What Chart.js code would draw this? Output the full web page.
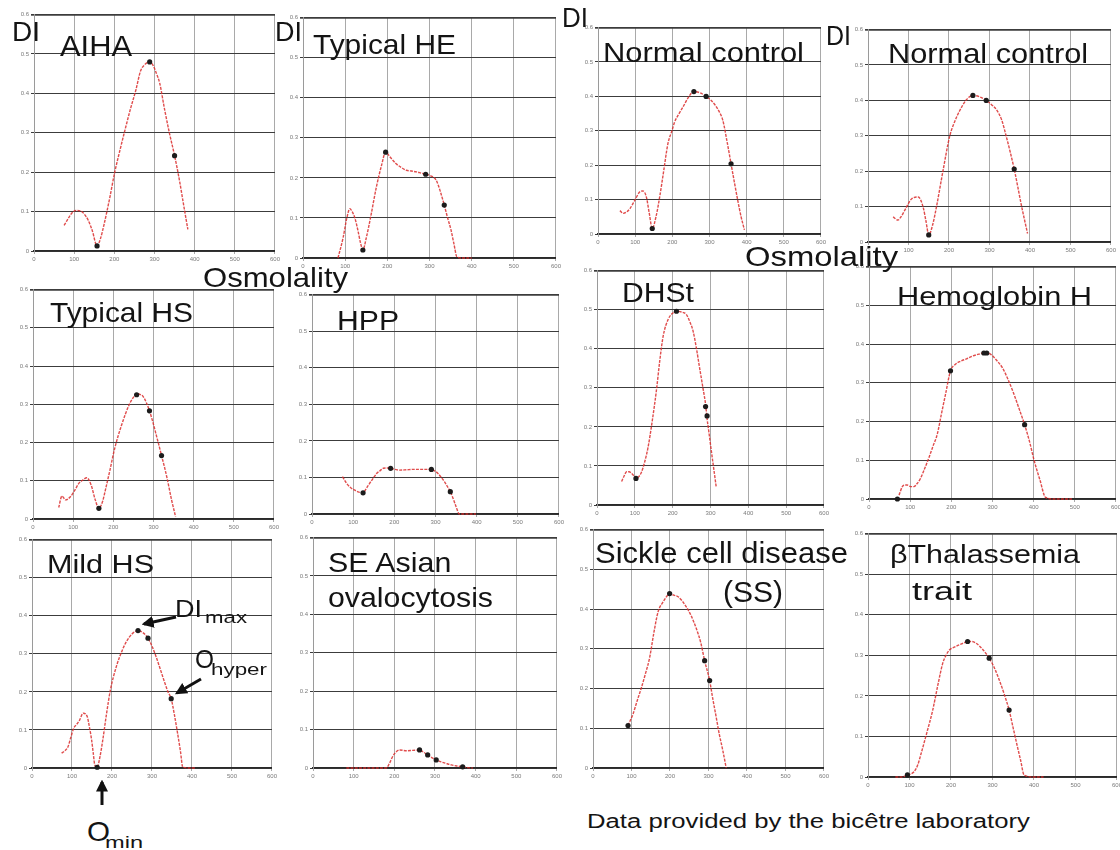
<!DOCTYPE html>
<html>
<head>
<meta charset="utf-8">
<script src="https://cdn.jsdelivr.net/npm/chart.js@4.4.1/dist/chart.umd.min.js"></script>
<style>
  html, body { margin: 0; padding: 0; background: #fff; overflow: hidden; }
  #wrap { position: relative; width: 1120px; height: 850px; background: #fff; }
  #wrap canvas { position: absolute; }
  .lbl { position: absolute; line-height: 1; white-space: nowrap; transform-origin: 0 0;
         font-family: "Liberation Sans", Arial, sans-serif; color: #141414; z-index: 2; }
  #arrows { position: absolute; left: 0; top: 0; z-index: 3; }
</style>
</head>
<body>
<div id="wrap">
  <svg id="arrows" width="1120" height="850">
    <defs>
      <marker id="ah" markerWidth="4" markerHeight="4" refX="3.2" refY="2" orient="auto" markerUnits="strokeWidth">
        <path d="M0,0 L4,2 L0,4 z" fill="#111"/>
      </marker>
    </defs>
    <line x1="176" y1="617" x2="144" y2="624" stroke="#111" stroke-width="3" marker-end="url(#ah)"/>
    <line x1="201" y1="679" x2="177" y2="693" stroke="#111" stroke-width="3" marker-end="url(#ah)"/>
    <line x1="102" y1="805" x2="102" y2="782" stroke="#111" stroke-width="3" marker-end="url(#ah)"/>
  </svg>
</div>
<script>
// axes (shared by all panels)
const xTicks = [0, 100, 200, 300, 400, 500, 600];
const yTicks = [0, 0.1, 0.2, 0.3, 0.4, 0.5, 0.6];

// AIHA
const aihaX = [75, 85, 95, 105, 115, 125, 135, 145, 157, 165, 175, 189, 201, 215, 226, 240, 254, 265, 278, 288, 297, 305, 313, 325, 337, 350, 362, 372, 383];
const aihaY = [0.065, 0.082, 0.097, 0.103, 0.102, 0.094, 0.078, 0.052, 0.013, 0.03, 0.07, 0.137, 0.2, 0.26, 0.305, 0.36, 0.41, 0.456, 0.475, 0.48, 0.47, 0.45, 0.426, 0.36, 0.3, 0.242, 0.18, 0.12, 0.055];
const aihaDotX = [157, 288, 350];
const aihaDotY = [0.013, 0.48, 0.242];

// Typical HE
const heX = [83, 95, 104, 111, 117, 123, 130, 137, 142, 150, 160, 174, 186, 196, 208, 221, 233, 245, 257, 269, 280, 291, 303, 316, 326, 335, 343, 351, 358, 365, 380, 400];
const heY = [0, 0.05, 0.1, 0.123, 0.115, 0.1, 0.07, 0.035, 0.02, 0.05, 0.1, 0.177, 0.23, 0.264, 0.25, 0.235, 0.226, 0.219, 0.217, 0.215, 0.212, 0.209, 0.205, 0.194, 0.165, 0.132, 0.1, 0.07, 0.035, 0.003, 0, 0];
const heDotX = [142, 196, 291, 335];
const heDotY = [0.02, 0.264, 0.209, 0.132];

// Normal control (1)
const nc1X = [59, 68, 77, 86, 99, 112, 121, 130, 138, 146, 156, 166, 177, 188, 199, 206, 217, 228, 246, 258, 275, 291, 303, 313, 325, 336, 347, 358, 367, 376, 385, 394];
const nc1Y = [0.068, 0.06, 0.064, 0.074, 0.098, 0.122, 0.125, 0.108, 0.06, 0.016, 0.05, 0.108, 0.185, 0.262, 0.3, 0.325, 0.348, 0.368, 0.402, 0.414, 0.41, 0.4, 0.39, 0.378, 0.358, 0.33, 0.27, 0.204, 0.15, 0.098, 0.05, 0.012];
const nc1DotX = [146, 258, 291, 358];
const nc1DotY = [0.016, 0.414, 0.4, 0.204];

// Normal control (2)
const nc2X = [62, 74, 82, 91, 108, 124, 136, 143, 150, 160, 169, 185, 202, 214, 226, 243, 259, 276, 292, 305, 317, 330, 341, 351, 361, 370, 378, 386, 394];
const nc2Y = [0.071, 0.062, 0.072, 0.09, 0.122, 0.127, 0.099, 0.06, 0.02, 0.05, 0.099, 0.2, 0.3, 0.34, 0.37, 0.402, 0.414, 0.41, 0.4, 0.388, 0.374, 0.345, 0.3, 0.255, 0.206, 0.155, 0.108, 0.065, 0.024];
const nc2DotX = [150, 259, 292, 361];
const nc2DotY = [0.02, 0.414, 0.4, 0.206];

// Typical HS
const hsX = [64, 72, 81, 93, 104, 114, 124, 134, 145, 155, 164, 173, 182, 192, 203, 220, 240, 250, 258, 266, 273, 282, 290, 298, 306, 313, 320, 328, 335, 345, 355];
const hsY = [0.03, 0.06, 0.05, 0.058, 0.075, 0.093, 0.102, 0.108, 0.088, 0.05, 0.028, 0.045, 0.084, 0.13, 0.183, 0.244, 0.3, 0.318, 0.328, 0.326, 0.322, 0.305, 0.283, 0.255, 0.223, 0.195, 0.166, 0.133, 0.101, 0.05, 0.006];
const hsDotX = [164, 258, 290, 320];
const hsDotY = [0.028, 0.325, 0.283, 0.166];

// HPP
const hppX = [74, 84, 94, 104, 114, 124, 132, 140, 149, 157, 165, 173, 182, 191, 202, 213, 230, 245, 260, 275, 290, 298, 306, 314, 322, 329, 336, 343, 350, 358, 380, 398];
const hppY = [0.102, 0.084, 0.072, 0.065, 0.06, 0.058, 0.07, 0.084, 0.098, 0.111, 0.118, 0.125, 0.126, 0.125, 0.122, 0.12, 0.121, 0.122, 0.122, 0.122, 0.122, 0.118, 0.111, 0.1, 0.088, 0.075, 0.061, 0.042, 0.02, 0, 0, 0];
const hppDotX = [124, 191, 290, 336];
const hppDotY = [0.058, 0.125, 0.122, 0.061];

// DHSt
const dhsX = [65, 72, 78, 85, 91, 97, 103, 110, 118, 126, 135, 146, 157, 166, 175, 188, 199, 210, 223, 236, 245, 254, 263, 271, 280, 288, 290, 296, 302, 309, 315];
const dhsY = [0.06, 0.075, 0.085, 0.085, 0.081, 0.075, 0.068, 0.072, 0.085, 0.11, 0.148, 0.215, 0.293, 0.37, 0.433, 0.475, 0.49, 0.496, 0.494, 0.488, 0.47, 0.445, 0.4, 0.352, 0.3, 0.25, 0.229, 0.185, 0.14, 0.09, 0.047];
const dhsDotX = [103, 210, 287, 291];
const dhsDotY = [0.068, 0.496, 0.252, 0.228];

// Hemoglobin H
const hbhX = [73, 81, 87, 93, 101, 109, 117, 125, 135, 146, 156, 166, 176, 186, 198, 210, 223, 237, 251, 267, 283, 295, 310, 324, 338, 352, 365, 378, 390, 401, 415, 429, 450, 470, 493];
const hbhY = [0.01, 0.032, 0.036, 0.036, 0.032, 0.032, 0.04, 0.053, 0.078, 0.108, 0.138, 0.168, 0.22, 0.271, 0.331, 0.348, 0.356, 0.362, 0.369, 0.374, 0.378, 0.374, 0.358, 0.339, 0.308, 0.271, 0.232, 0.192, 0.148, 0.1, 0.05, 0.004, 0, 0, 0];
const hbhDotX = [69, 198, 279, 286, 378];
const hbhDotY = [0, 0.331, 0.377, 0.377, 0.192];

// Mild HS
const mhsX = [74, 82, 90, 97, 104, 112, 119, 128, 138, 144, 149, 153, 157, 163, 170, 177, 186, 196, 211, 224, 236, 250, 265, 278, 290, 300, 310, 320, 330, 340, 348, 356, 364, 371, 377, 395, 410];
const mhsY = [0.039, 0.045, 0.056, 0.08, 0.104, 0.115, 0.126, 0.144, 0.135, 0.105, 0.074, 0.04, 0.008, 0.002, 0.03, 0.074, 0.14, 0.205, 0.267, 0.305, 0.332, 0.352, 0.361, 0.355, 0.341, 0.32, 0.293, 0.262, 0.23, 0.2, 0.182, 0.14, 0.091, 0.045, 0.002, 0, 0];
const mhsDotX = [163, 265, 290, 348];
const mhsDotY = [0.002, 0.361, 0.341, 0.182];

// SE Asian ovalocytosis
const seaX = [82, 120, 160, 180, 188, 195, 201, 213, 230, 245, 262, 272, 282, 292, 303, 315, 327, 340, 355, 368, 380, 393];
const seaY = [0, 0, 0, 0, 0.012, 0.028, 0.038, 0.047, 0.045, 0.046, 0.047, 0.041, 0.034, 0.027, 0.021, 0.016, 0.012, 0.008, 0.005, 0.003, 0.001, 0];
const seaDotX = [262, 282, 303, 368];
const seaDotY = [0.047, 0.034, 0.021, 0.003];

// Sickle cell disease (SS)
const sckX = [91, 97, 104, 115, 126, 137, 147, 158, 169, 182, 190, 199, 210, 221, 232, 242, 255, 268, 280, 290, 303, 311, 320, 328, 337, 346];
const sckY = [0.107, 0.12, 0.136, 0.17, 0.203, 0.24, 0.277, 0.34, 0.393, 0.418, 0.43, 0.439, 0.435, 0.431, 0.42, 0.406, 0.383, 0.352, 0.315, 0.27, 0.22, 0.175, 0.128, 0.085, 0.045, 0];
const sckDotX = [91, 199, 290, 303];
const sckDotY = [0.107, 0.439, 0.27, 0.22];

// beta thalassemia trait
const btX = [66, 80, 95, 104, 111, 120, 128, 142, 156, 168, 180, 188, 196, 208, 220, 230, 240, 250, 260, 276, 292, 304, 316, 328, 340, 350, 360, 368, 376, 400, 423];
const btY = [0, 0, 0.005, 0.008, 0.013, 0.03, 0.058, 0.11, 0.165, 0.225, 0.28, 0.3, 0.313, 0.32, 0.326, 0.33, 0.334, 0.334, 0.33, 0.315, 0.293, 0.27, 0.24, 0.205, 0.165, 0.12, 0.075, 0.04, 0.005, 0, 0];
const btDotX = [95, 240, 292, 340];
const btDotY = [0.005, 0.334, 0.293, 0.165];

const wrap = document.getElementById('wrap');

// plot boxes: l = x 0, r = x 600, t = y 0.6, b = y 0
function drawPanel(box, cx, cy, dx, dy) {
    const padL = 16, padT = 4, padR = 6, padB = 14;
    const w = box.r - box.l + padL + padR;
    const h = box.b - box.t + padT + padB;
    const cv = document.createElement('canvas');
    cv.width = w;
    cv.height = h;
    cv.style.left = (box.l - padL) + 'px';
    cv.style.top = (box.t - padT) + 'px';
    cv.style.width = w + 'px';
    cv.style.height = h + 'px';
    wrap.appendChild(cv);

    return new Chart(cv, {
        type: 'scatter',
        data: {
            datasets: [{
                data: dx.map((x, i) => ({ x: x, y: dy[i] })),
                pointRadius: 2.6,
                backgroundColor: '#1c1c1c',
                borderWidth: 0,
                order: 0,
                clip: false
            }, {
                data: cx.map((x, i) => ({ x: x, y: cy[i] })),
                showLine: true,
                borderColor: 'rgba(218, 45, 45, 0.85)',
                borderWidth: 1.4,
                borderDash: [3, 1.2],
                pointRadius: 0,
                cubicInterpolationMode: 'monotone',
                order: 1,
                clip: false
            }]
        },
        options: {
            responsive: false,
            animation: false,
            events: [],
            layout: { padding: { left: 0, top: padT, right: padR, bottom: 0 } },
            plugins: { legend: { display: false }, tooltip: { enabled: false } },
            scales: {
                x: {
                    type: 'linear',
                    min: xTicks[0],
                    max: xTicks[xTicks.length - 1],
                    afterBuildTicks: s => { s.ticks = xTicks.map(v => ({ value: v })); },
                    afterFit: s => { s.height = padB; },
                    ticks: { font: { size: 6 }, color: '#7a7a7a', padding: 2, maxRotation: 0, autoSkip: false },
                    grid: { color: '#a9a9a9', tickLength: 3 },
                    border: { color: '#2a2a2a', width: 1.6 }
                },
                y: {
                    min: yTicks[0],
                    max: yTicks[yTicks.length - 1],
                    afterBuildTicks: s => { s.ticks = yTicks.map(v => ({ value: v })); },
                    afterFit: s => { s.width = padL; },
                    ticks: {
                        font: { size: 6 }, color: '#7a7a7a', padding: 2, autoSkip: false,
                        callback: v => v === 0 ? '0' : v.toFixed(1)
                    },
                    grid: {
                        color: '#3c3c3c',
                        tickLength: 3,
                        lineWidth: c => (c.tick && c.tick.value >= 0.6 ? 1.7 : 1)
                    },
                    border: { color: '#9a9a9a' }
                }
            }
        }
    });
}

drawPanel({ l: 34, t: 13, r: 276, b: 251 }, aihaX, aihaY, aihaDotX, aihaDotY);
drawPanel({ l: 303, t: 16, r: 557, b: 258 }, heX, heY, heDotX, heDotY);
drawPanel({ l: 598, t: 26, r: 822, b: 234 }, nc1X, nc1Y, nc1DotX, nc1DotY);
drawPanel({ l: 868, t: 28, r: 1112, b: 242 }, nc2X, nc2Y, nc2DotX, nc2DotY);
drawPanel({ l: 33, t: 288, r: 275, b: 519 }, hsX, hsY, hsDotX, hsDotY);
drawPanel({ l: 312, t: 293, r: 560, b: 514 }, hppX, hppY, hppDotX, hppDotY);
drawPanel({ l: 597, t: 269, r: 825, b: 505 }, dhsX, dhsY, dhsDotX, dhsDotY);
drawPanel({ l: 869, t: 265, r: 1117, b: 499 }, hbhX, hbhY, hbhDotX, hbhDotY);
drawPanel({ l: 32, t: 538, r: 273, b: 768 }, mhsX, mhsY, mhsDotX, mhsDotY);
drawPanel({ l: 313, t: 536, r: 558, b: 768 }, seaX, seaY, seaDotX, seaDotY);
drawPanel({ l: 593, t: 528, r: 825, b: 768 }, sckX, sckY, sckDotX, sckDotY);
drawPanel({ l: 868, t: 532, r: 1118, b: 777 }, btX, btY, btDotX, btDotY);

// text: [text, left, baseline, font size, width]
const labels = [
    ['DI', 12, 42, 28, 28],
    ['DI', 275, 42, 28, 27],
    ['DI', 562, 28, 28, 26],
    ['DI', 826, 46, 28, 25],
    ['AIHA', 60, 56, 30, 72],
    ['Typical HE', 313, 55, 28, 143],
    ['Normal control', 603, 63, 28, 201],
    ['Normal control', 888, 64, 28, 200],
    ['Osmolality', 203, 288, 28, 145],
    ['Osmolality', 745, 267, 28, 153],
    ['Typical HS', 50, 323, 28, 143],
    ['HPP', 337, 331, 27, 62],
    ['DHSt', 622, 303, 28, 72],
    ['Hemoglobin H', 897, 305, 26, 195],
    ['Mild HS', 47, 573, 26, 107],
    ['SE Asian', 328, 573, 28, 125],
    ['ovalocytosis', 328, 608, 28, 165],
    ['Sickle cell disease', 595, 563, 30, 253],
    ['(SS)', 723, 602, 30, 60],
    ['\u03B2Thalassemia', 890, 563, 26, 190],
    ['trait', 912, 600, 26, 60],
    ['DI', 175, 617, 24, 27],
    ['max', 205, 623, 17, 42],
    ['O', 195, 668, 26, 19],
    ['hyper', 211, 675, 17, 56],
    ['O', 87, 842, 28, 23],
    ['min', 105, 848, 17, 38],
    ['Data provided by the bic\u00EAtre laboratory', 587, 828, 20, 443]
];

const meas = document.createElement('canvas').getContext('2d');
labels.forEach(([text, left, base, fs, w]) => {
    const d = document.createElement('div');
    d.className = 'lbl';
    d.textContent = text;
    d.style.fontSize = fs + 'px';
    d.style.left = left + 'px';
    d.style.top = (base - 0.8465 * fs) + 'px';
    meas.font = fs + 'px "Liberation Sans"';
    const sx = w / meas.measureText(text).width;
    d.style.transform = 'scaleX(' + sx.toFixed(3) + ')';
    wrap.appendChild(d);
});
</script>
</body>
</html>
